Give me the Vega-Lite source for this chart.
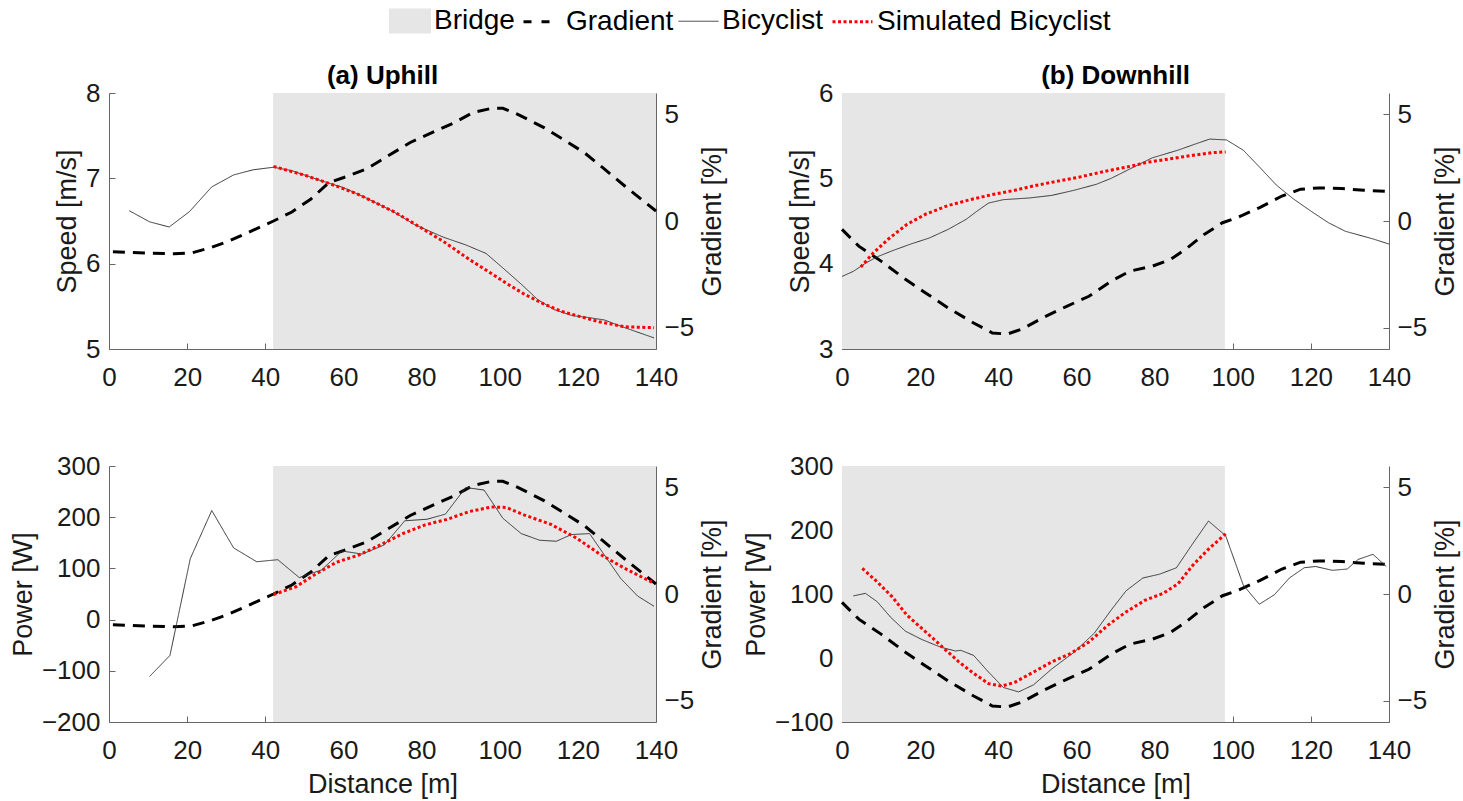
{
 "$schema": "https://vega.github.io/schema/vega-lite/v6.json",
 "background": "white",
 "padding": {"left": 9, "top": 0, "right": 5, "bottom": 5},
 "datasets": {
  "ug": [{"d":1,"g":-1.44},{"d":9.9,"g":-1.50},{"d":16.6,"g":-1.54},{"d":21.3,"g":-1.49},{"d":26.0,"g":-1.25},{"d":30.7,"g":-0.94},{"d":36.4,"g":-0.47},{"d":42.1,"g":0.0},{"d":46.8,"g":0.42},{"d":51.6,"g":1.02},{"d":56.3,"g":1.80},{"d":60.1,"g":2.04},{"d":65.8,"g":2.43},{"d":71.4,"g":3.05},{"d":77.1,"g":3.68},{"d":82.8,"g":4.15},{"d":88.5,"g":4.62},{"d":93.2,"g":5.09},{"d":97.9,"g":5.28},{"d":100.8,"g":5.28},{"d":104.5,"g":5.01},{"d":111.2,"g":4.39},{"d":116.8,"g":3.76},{"d":121.6,"g":3.21},{"d":126.3,"g":2.51},{"d":132.0,"g":1.64},{"d":140,"g":0.47}],
  "dg": [{"d":0,"g":-0.39},{"d":4.3,"g":-1.18},{"d":10.0,"g":-1.88},{"d":15.7,"g":-2.66},{"d":21.4,"g":-3.37},{"d":27.1,"g":-4.07},{"d":33.7,"g":-4.78},{"d":38.5,"g":-5.25},{"d":42.3,"g":-5.30},{"d":46.1,"g":-5.06},{"d":51.8,"g":-4.50},{"d":57.5,"g":-4.00},{"d":63.2,"g":-3.53},{"d":68.9,"g":-2.82},{"d":73.7,"g":-2.35},{"d":79.4,"g":-2.12},{"d":84.1,"g":-1.80},{"d":87.9,"g":-1.33},{"d":92.7,"g":-0.63},{"d":97.4,"g":-0.08},{"d":101.2,"g":0.16},{"d":106.9,"g":0.63},{"d":112.6,"g":1.17},{"d":117.4,"g":1.49},{"d":122.1,"g":1.55},{"d":127.9,"g":1.52},{"d":133.6,"g":1.44},{"d":140,"g":1.38}],
  "us": [
   {"d":5.2,"v":6.62,"s":"Bicyclist"},{"d":10.4,"v":6.49,"s":"Bicyclist"},{"d":15.4,"v":6.43,"s":"Bicyclist"},{"d":20.6,"v":6.61,"s":"Bicyclist"},{"d":26.3,"v":6.90,"s":"Bicyclist"},{"d":31.9,"v":7.04,"s":"Bicyclist"},{"d":36.9,"v":7.10,"s":"Bicyclist"},{"d":42.1,"v":7.13,"s":"Bicyclist"},{"d":46.8,"v":7.09,"s":"Bicyclist"},{"d":54.4,"v":6.97,"s":"Bicyclist"},{"d":60.1,"v":6.89,"s":"Bicyclist"},{"d":65.8,"v":6.77,"s":"Bicyclist"},{"d":72.4,"v":6.62,"s":"Bicyclist"},{"d":78.1,"v":6.46,"s":"Bicyclist"},{"d":85.6,"v":6.31,"s":"Bicyclist"},{"d":91.3,"v":6.22,"s":"Bicyclist"},{"d":96.5,"v":6.12,"s":"Bicyclist"},{"d":100.8,"v":5.95,"s":"Bicyclist"},{"d":105.5,"v":5.76,"s":"Bicyclist"},{"d":109.7,"v":5.58,"s":"Bicyclist"},{"d":114.0,"v":5.46,"s":"Bicyclist"},{"d":118.7,"v":5.39,"s":"Bicyclist"},{"d":122.5,"v":5.37,"s":"Bicyclist"},{"d":126.8,"v":5.34,"s":"Bicyclist"},{"d":132.0,"v":5.25,"s":"Bicyclist"},{"d":139.5,"v":5.13,"s":"Bicyclist"},
   {"d":42.1,"v":7.14,"s":"Simulated Bicyclist"},{"d":50.6,"v":7.03,"s":"Simulated Bicyclist"},{"d":58.2,"v":6.91,"s":"Simulated Bicyclist"},{"d":63.9,"v":6.81,"s":"Simulated Bicyclist"},{"d":73.3,"v":6.60,"s":"Simulated Bicyclist"},{"d":79.9,"v":6.42,"s":"Simulated Bicyclist"},{"d":85.6,"v":6.26,"s":"Simulated Bicyclist"},{"d":92.2,"v":6.05,"s":"Simulated Bicyclist"},{"d":97.0,"v":5.91,"s":"Simulated Bicyclist"},{"d":101.7,"v":5.77,"s":"Simulated Bicyclist"},{"d":106.4,"v":5.64,"s":"Simulated Bicyclist"},{"d":111.2,"v":5.53,"s":"Simulated Bicyclist"},{"d":115.9,"v":5.44,"s":"Simulated Bicyclist"},{"d":120.6,"v":5.38,"s":"Simulated Bicyclist"},{"d":125.4,"v":5.32,"s":"Simulated Bicyclist"},{"d":132.0,"v":5.26,"s":"Simulated Bicyclist"},{"d":139.5,"v":5.25,"s":"Simulated Bicyclist"}
  ],
  "ds": [
   {"d":0,"v":3.85,"s":"Bicyclist"},{"d":2.9,"v":3.91,"s":"Bicyclist"},{"d":6.2,"v":4.01,"s":"Bicyclist"},{"d":9.0,"v":4.08,"s":"Bicyclist"},{"d":12.8,"v":4.15,"s":"Bicyclist"},{"d":17.6,"v":4.23,"s":"Bicyclist"},{"d":22.3,"v":4.30,"s":"Bicyclist"},{"d":27.1,"v":4.40,"s":"Bicyclist"},{"d":31.8,"v":4.52,"s":"Bicyclist"},{"d":34.7,"v":4.62,"s":"Bicyclist"},{"d":37.5,"v":4.71,"s":"Bicyclist"},{"d":41.3,"v":4.75,"s":"Bicyclist"},{"d":48.0,"v":4.77,"s":"Bicyclist"},{"d":53.7,"v":4.80,"s":"Bicyclist"},{"d":59.4,"v":4.86,"s":"Bicyclist"},{"d":65.1,"v":4.93,"s":"Bicyclist"},{"d":68.9,"v":5.00,"s":"Bicyclist"},{"d":73.7,"v":5.11,"s":"Bicyclist"},{"d":79.4,"v":5.24,"s":"Bicyclist"},{"d":86.0,"v":5.33,"s":"Bicyclist"},{"d":90.3,"v":5.40,"s":"Bicyclist"},{"d":94.1,"v":5.46,"s":"Bicyclist"},{"d":98.4,"v":5.45,"s":"Bicyclist"},{"d":102.7,"v":5.33,"s":"Bicyclist"},{"d":106.9,"v":5.13,"s":"Bicyclist"},{"d":111.2,"v":4.92,"s":"Bicyclist"},{"d":115.5,"v":4.76,"s":"Bicyclist"},{"d":120.2,"v":4.61,"s":"Bicyclist"},{"d":124.5,"v":4.48,"s":"Bicyclist"},{"d":128.8,"v":4.38,"s":"Bicyclist"},{"d":135.9,"v":4.29,"s":"Bicyclist"},{"d":140,"v":4.23,"s":"Bicyclist"},
   {"d":4.8,"v":3.96,"s":"Simulated Bicyclist"},{"d":8.1,"v":4.13,"s":"Simulated Bicyclist"},{"d":11.9,"v":4.29,"s":"Simulated Bicyclist"},{"d":16.6,"v":4.46,"s":"Simulated Bicyclist"},{"d":21.4,"v":4.58,"s":"Simulated Bicyclist"},{"d":27.1,"v":4.68,"s":"Simulated Bicyclist"},{"d":32.8,"v":4.75,"s":"Simulated Bicyclist"},{"d":38.5,"v":4.81,"s":"Simulated Bicyclist"},{"d":44.2,"v":4.86,"s":"Simulated Bicyclist"},{"d":49.9,"v":4.92,"s":"Simulated Bicyclist"},{"d":55.6,"v":4.97,"s":"Simulated Bicyclist"},{"d":61.3,"v":5.02,"s":"Simulated Bicyclist"},{"d":67.0,"v":5.08,"s":"Simulated Bicyclist"},{"d":72.7,"v":5.13,"s":"Simulated Bicyclist"},{"d":78.4,"v":5.19,"s":"Simulated Bicyclist"},{"d":84.1,"v":5.23,"s":"Simulated Bicyclist"},{"d":89.8,"v":5.27,"s":"Simulated Bicyclist"},{"d":94.6,"v":5.30,"s":"Simulated Bicyclist"},{"d":98.2,"v":5.31,"s":"Simulated Bicyclist"}
  ],
  "up": [
   {"d":10.4,"v":-111,"s":"Bicyclist"},{"d":15.6,"v":-70,"s":"Bicyclist"},{"d":20.8,"v":119,"s":"Bicyclist"},{"d":26.3,"v":213,"s":"Bicyclist"},{"d":31.9,"v":140,"s":"Bicyclist"},{"d":37.8,"v":113,"s":"Bicyclist"},{"d":43.2,"v":117,"s":"Bicyclist"},{"d":48.7,"v":82,"s":"Bicyclist"},{"d":54.4,"v":97,"s":"Bicyclist"},{"d":59.6,"v":134,"s":"Bicyclist"},{"d":64.8,"v":128,"s":"Bicyclist"},{"d":70.5,"v":146,"s":"Bicyclist"},{"d":75.7,"v":193,"s":"Bicyclist"},{"d":81.4,"v":196,"s":"Bicyclist"},{"d":86.1,"v":206,"s":"Bicyclist"},{"d":91.3,"v":258,"s":"Bicyclist"},{"d":96.0,"v":253,"s":"Bicyclist"},{"d":100.8,"v":198,"s":"Bicyclist"},{"d":105.5,"v":168,"s":"Bicyclist"},{"d":110.2,"v":155,"s":"Bicyclist"},{"d":114.5,"v":153,"s":"Bicyclist"},{"d":118.3,"v":166,"s":"Bicyclist"},{"d":123.0,"v":168,"s":"Bicyclist"},{"d":126.8,"v":126,"s":"Bicyclist"},{"d":131.0,"v":80,"s":"Bicyclist"},{"d":135.3,"v":46,"s":"Bicyclist"},{"d":139.5,"v":26,"s":"Bicyclist"},
   {"d":42.1,"v":49,"s":"Simulated Bicyclist"},{"d":47.8,"v":64,"s":"Simulated Bicyclist"},{"d":52.5,"v":87,"s":"Simulated Bicyclist"},{"d":58.2,"v":112,"s":"Simulated Bicyclist"},{"d":63.9,"v":126,"s":"Simulated Bicyclist"},{"d":69.5,"v":146,"s":"Simulated Bicyclist"},{"d":75.2,"v":168,"s":"Simulated Bicyclist"},{"d":80.9,"v":185,"s":"Simulated Bicyclist"},{"d":86.6,"v":196,"s":"Simulated Bicyclist"},{"d":92.2,"v":211,"s":"Simulated Bicyclist"},{"d":97.9,"v":220,"s":"Simulated Bicyclist"},{"d":101.7,"v":219,"s":"Simulated Bicyclist"},{"d":106.4,"v":204,"s":"Simulated Bicyclist"},{"d":113.1,"v":186,"s":"Simulated Bicyclist"},{"d":119.7,"v":159,"s":"Simulated Bicyclist"},{"d":125.4,"v":129,"s":"Simulated Bicyclist"},{"d":132.0,"v":100,"s":"Simulated Bicyclist"},{"d":139.5,"v":71,"s":"Simulated Bicyclist"}
  ],
  "dp": [
   {"d":2.9,"v":97,"s":"Bicyclist"},{"d":6.0,"v":101,"s":"Bicyclist"},{"d":9.0,"v":88,"s":"Bicyclist"},{"d":12.4,"v":64,"s":"Bicyclist"},{"d":16.2,"v":42,"s":"Bicyclist"},{"d":20.4,"v":29,"s":"Bicyclist"},{"d":25.2,"v":17,"s":"Bicyclist"},{"d":29.0,"v":11,"s":"Bicyclist"},{"d":30.4,"v":12,"s":"Bicyclist"},{"d":33.7,"v":4,"s":"Bicyclist"},{"d":37.5,"v":-22,"s":"Bicyclist"},{"d":41.3,"v":-46,"s":"Bicyclist"},{"d":45.2,"v":-53,"s":"Bicyclist"},{"d":49.0,"v":-42,"s":"Bicyclist"},{"d":53.7,"v":-17,"s":"Bicyclist"},{"d":59.4,"v":9,"s":"Bicyclist"},{"d":64.6,"v":39,"s":"Bicyclist"},{"d":68.9,"v":75,"s":"Bicyclist"},{"d":72.7,"v":105,"s":"Bicyclist"},{"d":77.0,"v":125,"s":"Bicyclist"},{"d":81.3,"v":131,"s":"Bicyclist"},{"d":85.6,"v":141,"s":"Bicyclist"},{"d":89.8,"v":179,"s":"Bicyclist"},{"d":93.8,"v":214,"s":"Bicyclist"},{"d":98.2,"v":191,"s":"Bicyclist"},{"d":102.7,"v":114,"s":"Bicyclist"},{"d":106.8,"v":84,"s":"Bicyclist"},{"d":110.7,"v":99,"s":"Bicyclist"},{"d":114.5,"v":125,"s":"Bicyclist"},{"d":118.3,"v":141,"s":"Bicyclist"},{"d":121.2,"v":143,"s":"Bicyclist"},{"d":125.5,"v":137,"s":"Bicyclist"},{"d":129.3,"v":139,"s":"Bicyclist"},{"d":132.1,"v":154,"s":"Bicyclist"},{"d":135.9,"v":162,"s":"Bicyclist"},{"d":139.3,"v":143,"s":"Bicyclist"},
   {"d":5.2,"v":140,"s":"Simulated Bicyclist"},{"d":9.0,"v":119,"s":"Simulated Bicyclist"},{"d":12.8,"v":96,"s":"Simulated Bicyclist"},{"d":16.6,"v":67,"s":"Simulated Bicyclist"},{"d":21.4,"v":41,"s":"Simulated Bicyclist"},{"d":26.1,"v":15,"s":"Simulated Bicyclist"},{"d":29.9,"v":-6,"s":"Simulated Bicyclist"},{"d":33.7,"v":-24,"s":"Simulated Bicyclist"},{"d":37.5,"v":-40,"s":"Simulated Bicyclist"},{"d":40.8,"v":-44,"s":"Simulated Bicyclist"},{"d":44.2,"v":-38,"s":"Simulated Bicyclist"},{"d":49.0,"v":-22,"s":"Simulated Bicyclist"},{"d":53.7,"v":-6,"s":"Simulated Bicyclist"},{"d":58.5,"v":7,"s":"Simulated Bicyclist"},{"d":63.2,"v":25,"s":"Simulated Bicyclist"},{"d":68.0,"v":51,"s":"Simulated Bicyclist"},{"d":72.7,"v":72,"s":"Simulated Bicyclist"},{"d":77.5,"v":90,"s":"Simulated Bicyclist"},{"d":82.2,"v":101,"s":"Simulated Bicyclist"},{"d":86.0,"v":116,"s":"Simulated Bicyclist"},{"d":89.8,"v":145,"s":"Simulated Bicyclist"},{"d":93.6,"v":169,"s":"Simulated Bicyclist"},{"d":98.2,"v":194,"s":"Simulated Bicyclist"}
  ]
 },
 "columns": 2,
 "spacing": {"row": 117, "column": 186},
 "bounds": "flush",
 "concat": [
  {
   "width": 547, "height": 256,
   "title": {"text": "(a) Uphill"},
   "layer": [
    {"data": {"values": [{"d": 42, "d2": 140, "b": "Bridge"}]}, "mark": {"type": "rect"},
     "encoding": {"x": {"field": "d", "type": "quantitative", "scale": {"domain": [0, 140], "nice": false}, "axis": {"values": [0,20,40,60,80,100,120,140], "title": null, "labelFlush": false, "labelPadding": 21}}, "x2": {"field": "d2"},
      "fill": {"field": "b", "type": "nominal", "scale": {"domain": ["Bridge"], "range": ["#e6e6e6"]}, "legend": {"title": null, "orient": "none", "legendX": 280, "legendY": -93, "labelFont": "Liberation Sans", "labelFontSize": 28, "labelColor": "#000000", "labelLimit": 400, "labelOffset": 3, "symbolType": "M-1,-0.6H1V0.6H-1Z", "symbolSize": 1764, "symbolStrokeWidth": 0}}}},
    {"data": {"name": "ug"}, "mark": {"type": "line", "color": "#000000", "strokeWidth": 3, "strokeDash": [12, 8]},
     "encoding": {"x": {"field": "d", "type": "quantitative"}, "y": {"field": "g", "type": "quantitative", "scale": {"domain": [-6, 6], "nice": false}, "axis": {"orient": "right", "values": [-5, 0, 5], "title": "Gradient [%]", "titleAngle": 270, "titleBaseline": "top", "titlePadding": 6, "labelPadding": 14}}}},
    {"data": {"name": "us"}, "mark": {"type": "line"},
     "encoding": {"x": {"field": "d", "type": "quantitative"}, "y": {"field": "v", "type": "quantitative", "scale": {"domain": [5, 8], "nice": false, "zero": false}, "axis": {"orient": "left", "values": [5, 6, 7, 8], "title": "Speed [m/s]"}},
      "color": {"field": "s", "type": "nominal", "scale": {"domain": ["Gradient", "Bicyclist", "Simulated Bicyclist"], "range": ["#000000", "#333333", "#ff0000"]},
       "legend": {"title": null, "orient": "none", "direction": "horizontal", "legendX": 411, "legendY": -93, "labelFont": "Liberation Sans", "labelFontSize": 28, "labelColor": "#000000", "labelLimit": 400, "labelOffset": 3, "columnPadding": 2, "symbolSize": 1600, "symbolType": "stroke"}},
      "strokeDash": {"field": "s", "type": "nominal", "scale": {"domain": ["Gradient", "Bicyclist", "Simulated Bicyclist"], "range": [[0, 2, 8, 10, 8, 30], [1, 0], [3, 2.5]]}},
      "strokeWidth": {"field": "s", "type": "ordinal", "scale": {"type": "ordinal", "domain": ["Gradient", "Bicyclist", "Simulated Bicyclist"], "range": [3, 1, 3]}}}}
   ],
   "resolve": {"scale": {"y": "independent"}}
  },
  {
   "width": 547, "height": 256,
   "title": {"text": "(b) Downhill"},
   "layer": [
    {"data": {"values": [{"d": 0, "d2": 98, "b": "Bridge"}]}, "mark": {"type": "rect"},
     "encoding": {"x": {"field": "d", "type": "quantitative", "scale": {"domain": [0, 140], "nice": false}, "axis": {"values": [0,20,40,60,80,100,120,140], "title": null, "labelFlush": false, "labelPadding": 21}}, "x2": {"field": "d2"},
      "fill": {"field": "b", "type": "nominal", "scale": {"domain": ["Bridge"], "range": ["#e6e6e6"]}, "legend": {"title": null, "orient": "none", "legendX": 280, "legendY": -93, "labelFont": "Liberation Sans", "labelFontSize": 28, "labelColor": "#000000", "labelLimit": 400, "labelOffset": 3, "symbolType": "M-1,-0.6H1V0.6H-1Z", "symbolSize": 1764, "symbolStrokeWidth": 0}}}},
    {"data": {"name": "dg"}, "mark": {"type": "line", "color": "#000000", "strokeWidth": 3, "strokeDash": [12, 8]},
     "encoding": {"x": {"field": "d", "type": "quantitative"}, "y": {"field": "g", "type": "quantitative", "scale": {"domain": [-6, 6], "nice": false}, "axis": {"orient": "right", "values": [-5, 0, 5], "title": "Gradient [%]", "titleAngle": 270, "titleBaseline": "top", "titlePadding": 6, "labelPadding": 14}}}},
    {"data": {"name": "ds"}, "mark": {"type": "line"},
     "encoding": {"x": {"field": "d", "type": "quantitative"}, "y": {"field": "v", "type": "quantitative", "scale": {"domain": [3, 6], "nice": false, "zero": false}, "axis": {"orient": "left", "values": [3, 4, 5, 6], "title": "Speed [m/s]"}},
      "color": {"field": "s", "type": "nominal", "scale": {"domain": ["Gradient", "Bicyclist", "Simulated Bicyclist"], "range": ["#000000", "#333333", "#ff0000"]},
       "legend": {"title": null, "orient": "none", "direction": "horizontal", "legendX": 411, "legendY": -93, "labelFont": "Liberation Sans", "labelFontSize": 28, "labelColor": "#000000", "labelLimit": 400, "labelOffset": 3, "columnPadding": 2, "symbolSize": 1600, "symbolType": "stroke"}},
      "strokeDash": {"field": "s", "type": "nominal", "scale": {"domain": ["Gradient", "Bicyclist", "Simulated Bicyclist"], "range": [[0, 2, 8, 10, 8, 30], [1, 0], [3, 2.5]]}},
      "strokeWidth": {"field": "s", "type": "ordinal", "scale": {"type": "ordinal", "domain": ["Gradient", "Bicyclist", "Simulated Bicyclist"], "range": [3, 1, 3]}}}}
   ],
   "resolve": {"scale": {"y": "independent"}}
  },
  {
   "width": 547, "height": 256,
   "layer": [
    {"data": {"values": [{"d": 42, "d2": 140, "b": "Bridge"}]}, "mark": {"type": "rect"},
     "encoding": {"x": {"field": "d", "type": "quantitative", "scale": {"domain": [0, 140], "nice": false}, "axis": {"values": [0,20,40,60,80,100,120,140], "title": "Distance [m]", "labelFlush": false, "labelPadding": 21, "titlePadding": 8}}, "x2": {"field": "d2"},
      "fill": {"field": "b", "type": "nominal", "scale": {"domain": ["Bridge"], "range": ["#e6e6e6"]}, "legend": {"title": null, "orient": "none", "legendX": 280, "legendY": -93, "labelFont": "Liberation Sans", "labelFontSize": 28, "labelColor": "#000000", "labelLimit": 400, "labelOffset": 3, "symbolType": "M-1,-0.6H1V0.6H-1Z", "symbolSize": 1764, "symbolStrokeWidth": 0}}}},
    {"data": {"name": "ug"}, "mark": {"type": "line", "color": "#000000", "strokeWidth": 3, "strokeDash": [12, 8]},
     "encoding": {"x": {"field": "d", "type": "quantitative"}, "y": {"field": "g", "type": "quantitative", "scale": {"domain": [-6, 6], "nice": false}, "axis": {"orient": "right", "values": [-5, 0, 5], "title": "Gradient [%]", "titleAngle": 270, "titleBaseline": "top", "titlePadding": 6, "labelPadding": 14}}}},
    {"data": {"name": "up"}, "mark": {"type": "line"},
     "encoding": {"x": {"field": "d", "type": "quantitative"}, "y": {"field": "v", "type": "quantitative", "scale": {"domain": [-200, 300], "nice": false, "zero": false}, "axis": {"orient": "left", "values": [-200, -100, 0, 100, 200, 300], "title": "Power [W]"}},
      "color": {"field": "s", "type": "nominal", "scale": {"domain": ["Gradient", "Bicyclist", "Simulated Bicyclist"], "range": ["#000000", "#333333", "#ff0000"]},
       "legend": {"title": null, "orient": "none", "direction": "horizontal", "legendX": 411, "legendY": -93, "labelFont": "Liberation Sans", "labelFontSize": 28, "labelColor": "#000000", "labelLimit": 400, "labelOffset": 3, "columnPadding": 2, "symbolSize": 1600, "symbolType": "stroke"}},
      "strokeDash": {"field": "s", "type": "nominal", "scale": {"domain": ["Gradient", "Bicyclist", "Simulated Bicyclist"], "range": [[0, 2, 8, 10, 8, 30], [1, 0], [3, 2.5]]}},
      "strokeWidth": {"field": "s", "type": "ordinal", "scale": {"type": "ordinal", "domain": ["Gradient", "Bicyclist", "Simulated Bicyclist"], "range": [3, 1, 3]}}}}
   ],
   "resolve": {"scale": {"y": "independent"}}
  },
  {
   "width": 547, "height": 256,
   "layer": [
    {"data": {"values": [{"d": 0, "d2": 98, "b": "Bridge"}]}, "mark": {"type": "rect"},
     "encoding": {"x": {"field": "d", "type": "quantitative", "scale": {"domain": [0, 140], "nice": false}, "axis": {"values": [0,20,40,60,80,100,120,140], "title": "Distance [m]", "labelFlush": false, "labelPadding": 21, "titlePadding": 8}}, "x2": {"field": "d2"},
      "fill": {"field": "b", "type": "nominal", "scale": {"domain": ["Bridge"], "range": ["#e6e6e6"]}, "legend": {"title": null, "orient": "none", "legendX": 280, "legendY": -93, "labelFont": "Liberation Sans", "labelFontSize": 28, "labelColor": "#000000", "labelLimit": 400, "labelOffset": 3, "symbolType": "M-1,-0.6H1V0.6H-1Z", "symbolSize": 1764, "symbolStrokeWidth": 0}}}},
    {"data": {"name": "dg"}, "mark": {"type": "line", "color": "#000000", "strokeWidth": 3, "strokeDash": [12, 8]},
     "encoding": {"x": {"field": "d", "type": "quantitative"}, "y": {"field": "g", "type": "quantitative", "scale": {"domain": [-6, 6], "nice": false}, "axis": {"orient": "right", "values": [-5, 0, 5], "title": "Gradient [%]", "titleAngle": 270, "titleBaseline": "top", "titlePadding": 6, "labelPadding": 14}}}},
    {"data": {"name": "dp"}, "mark": {"type": "line"},
     "encoding": {"x": {"field": "d", "type": "quantitative"}, "y": {"field": "v", "type": "quantitative", "scale": {"domain": [-100, 300], "nice": false, "zero": false}, "axis": {"orient": "left", "values": [-100, 0, 100, 200, 300], "title": "Power [W]"}},
      "color": {"field": "s", "type": "nominal", "scale": {"domain": ["Gradient", "Bicyclist", "Simulated Bicyclist"], "range": ["#000000", "#333333", "#ff0000"]},
       "legend": {"title": null, "orient": "none", "direction": "horizontal", "legendX": 411, "legendY": -93, "labelFont": "Liberation Sans", "labelFontSize": 28, "labelColor": "#000000", "labelLimit": 400, "labelOffset": 3, "columnPadding": 2, "symbolSize": 1600, "symbolType": "stroke"}},
      "strokeDash": {"field": "s", "type": "nominal", "scale": {"domain": ["Gradient", "Bicyclist", "Simulated Bicyclist"], "range": [[0, 2, 8, 10, 8, 30], [1, 0], [3, 2.5]]}},
      "strokeWidth": {"field": "s", "type": "ordinal", "scale": {"type": "ordinal", "domain": ["Gradient", "Bicyclist", "Simulated Bicyclist"], "range": [3, 1, 3]}}}}
   ],
   "resolve": {"scale": {"y": "independent"}}
  }
 ],
 "config": {
  "view": {"stroke": null},
  "axis": {"grid": false, "domainColor": "#666666", "tickColor": "#666666", "tickSize": -6, "labelFont": "Liberation Sans", "labelFontSize": 26, "labelColor": "#1a1a1a", "titleFont": "Liberation Sans", "titleFontSize": 27, "titleFontWeight": "normal", "titleColor": "#1a1a1a", "labelPadding": 15, "titlePadding": 4},
  "title": {"font": "Liberation Sans", "fontSize": 26, "fontWeight": "bold", "color": "#000000", "offset": -9, "baseline": "alphabetic", "frame": "group", "anchor": "middle"}
 }
}
